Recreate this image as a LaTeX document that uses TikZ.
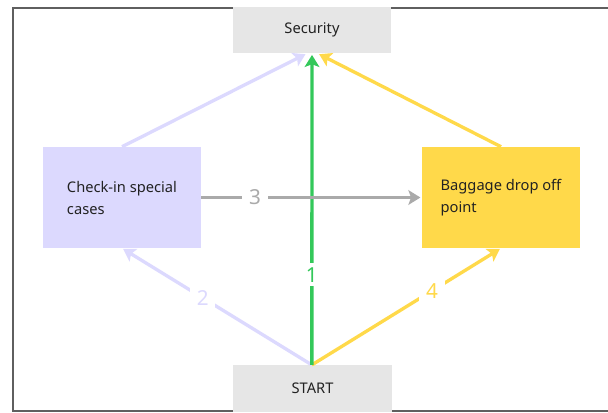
\documentclass[tikz,border=0pt]{standalone}
\usepackage{fontspec}
\setmainfont{Noto Sans}
\usetikzlibrary{arrows.meta}

\definecolor{boxgray}{HTML}{E6E6E6}
\definecolor{lavender}{HTML}{DCD9FE}
\definecolor{sun}{HTML}{FFD94A}
\definecolor{leaf}{HTML}{33C85A}
\definecolor{steel}{HTML}{AAAAAA}
\definecolor{ink}{HTML}{222222}
\definecolor{framegray}{HTML}{5F5F5F}

\begin{document}
\begin{tikzpicture}[x=0.75pt,y=-0.75pt,
  stepbox/.style={draw=none, text=ink, inner sep=0pt,
    font=\fontsize{11}{16.5}\selectfont},
  endbox/.style={stepbox, fill=boxgray, minimum width=119pt, minimum height=35pt},
  sidebox/.style={stepbox, minimum width=118.5pt, minimum height=75.75pt, align=left},
  flow/.style={line width=2.5pt, -{Stealth[length=9pt,width=11pt,inset=2pt]}, shorten >=1pt},
  tag/.style={fill=white, inner xsep=5pt, inner ysep=2.5pt,
    font=\fontsize{15.5}{15.5}\selectfont}]
\useasboundingbox (0,0) rectangle (608,412);

% outer frame
\draw[framegray, line width=1.5pt] (608,7.5) -- (12.5,7.5) -- (12.5,410.5) -- (608,410.5);

% steps
\node[endbox] (sec) at (312,30) {Security};
\node[endbox] (start) at (312.5,388.5) {START};
\node[sidebox, fill=lavender] (check) at (122,197.5) {Check-in special\\cases};
\node[sidebox, fill=sun] (bag) at (501,197.5) {Baggage drop off\\point};

% routes
\draw[flow, lavender] (check.north) -- ([xshift=-4pt]sec.south);
\draw[flow, sun] (bag.north) -- ([xshift=4.5pt]sec.south);
\draw[flow, lavender] ([xshift=-0.5pt]start.north) -- node[tag, pos=0.574, text=lavender] {2} (check.south);
\draw[flow, sun] ([xshift=-0.5pt]start.north) -- node[tag, pos=0.635, text=sun] {4} (bag.south);
\draw[flow, leaf] ([xshift=-0.5pt]start.north) -- node[tag, pos=0.29, text=leaf, inner xsep=2pt, inner ysep=3pt] {1} (sec.south);
\draw[flow, steel] (check.east) -- node[tag, pos=0.244, text=steel] {3} (bag.west);
\end{tikzpicture}
\end{document}
